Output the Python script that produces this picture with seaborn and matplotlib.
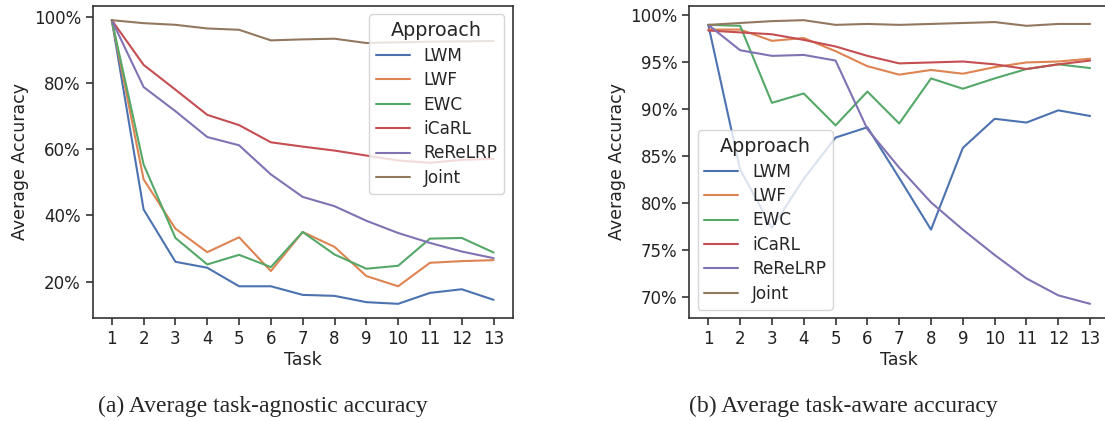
import numpy as np
import pandas as pd
import matplotlib
matplotlib.use("Agg")
import matplotlib.pyplot as plt
from matplotlib.ticker import FuncFormatter
import seaborn as sns

tasks = list(range(1, 14))
approaches = ["LWM", "LWF", "EWC", "iCaRL", "ReReLRP", "Joint"]

# Average task-agnostic accuracy (%)
agnostic_lwm = [99.0, 41.8, 26.0, 24.2, 18.6, 18.6, 16.0, 15.7, 13.8, 13.3, 16.6, 17.7, 14.5]
agnostic_lwf = [99.0, 50.9, 36.0, 28.9, 33.4, 23.2, 35.0, 30.5, 21.7, 18.6, 25.7, 26.2, 26.5]
agnostic_ewc = [99.0, 55.4, 33.2, 25.2, 28.1, 24.4, 35.0, 28.2, 23.9, 24.8, 33.0, 33.2, 28.8]
agnostic_icarl = [99.0, 85.5, 78.0, 70.4, 67.3, 62.1, 60.8, 59.6, 58.1, 56.6, 55.9, 56.8, 57.1]
agnostic_rerelrp = [99.0, 78.8, 71.5, 63.7, 61.2, 52.4, 45.6, 42.8, 38.4, 34.7, 31.7, 29.1, 27.1]
agnostic_joint = [99.0, 98.1, 97.6, 96.5, 96.1, 92.9, 93.2, 93.4, 92.1, 92.3, 92.5, 92.6, 92.7]

# Average task-aware accuracy (%)
aware_lwm = [99.0, 83.6, 77.4, 82.6, 87.0, 88.1, 82.7, 77.2, 85.9, 89.0, 88.6, 89.9, 89.3]
aware_lwf = [98.5, 98.5, 97.3, 97.6, 96.2, 94.6, 93.7, 94.2, 93.8, 94.5, 95.0, 95.1, 95.4]
aware_ewc = [99.0, 98.9, 90.7, 91.7, 88.3, 91.9, 88.5, 93.3, 92.2, 93.3, 94.3, 94.8, 94.4]
aware_icarl = [98.4, 98.2, 98.0, 97.4, 96.7, 95.7, 94.9, 95.0, 95.1, 94.8, 94.3, 94.8, 95.2]
aware_rerelrp = [99.0, 96.3, 95.7, 95.8, 95.2, 87.9, 83.8, 80.1, 77.2, 74.5, 72.0, 70.2, 69.3]
aware_joint = [99.0, 99.2, 99.4, 99.5, 99.0, 99.1, 99.0, 99.1, 99.2, 99.3, 98.9, 99.1, 99.1]

agnostic_series = [agnostic_lwm, agnostic_lwf, agnostic_ewc,
                   agnostic_icarl, agnostic_rerelrp, agnostic_joint]
aware_series = [aware_lwm, aware_lwf, aware_ewc,
                aware_icarl, aware_rerelrp, aware_joint]


def to_long(series):
    rows = []
    for name, values in zip(approaches, series):
        for t, v in zip(tasks, values):
            rows.append({"Task": t, "Average Accuracy": v, "Approach": name})
    return pd.DataFrame(rows)


sns.set_theme(style="ticks", palette="deep")
plt.rcParams["font.family"] = ["DejaVu Sans"]

fig = plt.figure(figsize=(11.05, 4.21), dpi=100)
ax_a = fig.add_axes([92.7 / 1105, 1 - 318 / 421, 420 / 1105, 312 / 421])
ax_b = fig.add_axes([689.2 / 1105, 1 - 318 / 421, 420 / 1105, 312 / 421])

pct = FuncFormatter(lambda v, _: f"{v:.0f}%")

for ax, series, loc, yticks in [
    (ax_a, agnostic_series, "upper right", [20, 40, 60, 80, 100]),
    (ax_b, aware_series, "lower left", [70, 75, 80, 85, 90, 95, 100]),
]:
    sns.lineplot(data=to_long(series), x="Task", y="Average Accuracy",
                 hue="Approach", ax=ax, linewidth=1.5)
    ax.set_xticks(tasks)
    ax.set_yticks(yticks)
    ax.yaxis.set_major_formatter(pct)
    ax.tick_params(labelsize=12, length=5, width=1.1, colors="#222222")
    ax.set_xlabel("Task", fontsize=12.5, color="#222222", labelpad=2)
    ax.set_ylabel("Average Accuracy", fontsize=12.5, color="#222222", labelpad=3)
    for sp in ax.spines.values():
        sp.set_linewidth(1.2)
        sp.set_color("#333333")
    leg = ax.legend(title="Approach", loc=loc, fontsize=12.2,
                    title_fontsize=13.8, borderaxespad=0.5,
                    labelspacing=0.38)
    for line in leg.get_lines():
        line.set_linewidth(1.5)

ax_a.set_xlim(0.4, 13.6)
ax_b.set_xlim(0.4, 13.6)

fig.text(263 / 1105, 1 - 406 / 421, "(a) Average task-agnostic accuracy",
         ha="center", va="center", fontsize=17, family="Liberation Serif")
fig.text(843 / 1105, 1 - 406 / 421, "(b) Average task-aware accuracy",
         ha="center", va="center", fontsize=17, family="Liberation Serif")

fig.savefig("out.png", dpi=100)
